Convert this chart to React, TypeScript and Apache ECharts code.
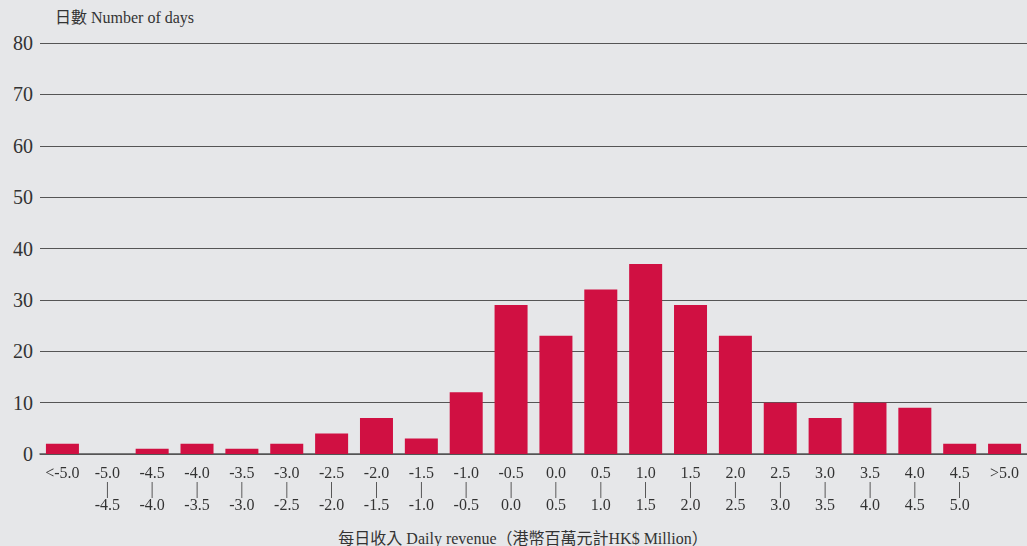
import React, { useEffect, useRef } from "react";
import * as echarts from "echarts";

const categories = [
  "<-5.0", "-5.0\n|\n-4.5", "-4.5\n|\n-4.0", "-4.0\n|\n-3.5", "-3.5\n|\n-3.0", "-3.0\n|\n-2.5",
  "-2.5\n|\n-2.0", "-2.0\n|\n-1.5", "-1.5\n|\n-1.0", "-1.0\n|\n-0.5", "-0.5\n|\n0.0", "0.0\n|\n0.5",
  "0.5\n|\n1.0", "1.0\n|\n1.5", "1.5\n|\n2.0", "2.0\n|\n2.5", "2.5\n|\n3.0", "3.0\n|\n3.5",
  "3.5\n|\n4.0", "4.0\n|\n4.5", "4.5\n|\n5.0", ">5.0",
];
const days = [2, 0, 1, 2, 1, 2, 4, 7, 3, 12, 29, 23, 32, 37, 29, 23, 10, 7, 10, 9, 2, 2];
const yTitle = "日數 Number of days";
const xTitle = "每日收入 Daily revenue（港幣百萬元計HK$ Million）";

const FONT = "'Liberation Serif', 'DejaVu Serif', 'Noto Sans CJK TC', serif";

export default function App() {
  const ref = useRef<HTMLDivElement>(null);
  useEffect(() => {
    const chart = echarts.init(ref.current!, undefined, { renderer: "svg" });
    chart.setOption({
      animation: false,
      backgroundColor: "#e6e7e9",
      textStyle: { fontFamily: FONT },
      grid: { left: 40, right: 0, top: 43, bottom: 92, containLabel: false },
      xAxis: {
        type: "category",
        data: categories,
        axisLine: { show: true, lineStyle: { color: "#555", width: 1.5 } },
        axisTick: { show: false },
        axisLabel: {
          color: "#333",
          fontSize: 16,
          fontFamily: FONT,
          lineHeight: 16,
          margin: 10,
          interval: 0,
          verticalAlign: "top",
          textShadowColor: "rgba(230,231,233,0.02)",
          textShadowBlur: 1,
        },
      },
      yAxis: {
        type: "value",
        min: 0,
        max: 80,
        interval: 10,
        axisLine: { show: false },
        axisTick: { show: false },
        splitLine: { lineStyle: { color: "#555", width: 1 } },
        axisLabel: { color: "#333", fontSize: 20, fontFamily: FONT, margin: 7 },
      },
      graphic: [
        {
          type: "text",
          left: 55,
          top: 9,
          style: { text: yTitle, fill: "#333", font: `16px ${FONT}` },
        },
        {
          type: "text",
          x: 523,
          y: 538,
          style: {
            text: xTitle,
            fill: "#333",
            font: `16px ${FONT}`,
            textAlign: "center",
            textVerticalAlign: "middle",
          },
        },
      ],
      series: [
        {
          type: "bar",
          data: days,
          barWidth: 33,
          itemStyle: { color: "#d01042" },
        },
      ],
    });
    return () => chart.dispose();
  }, []);
  return (
    <div
      ref={ref}
      style={{ position: "fixed", left: 0, top: 0, width: 1027, height: 546 }}
    />
  );
}
